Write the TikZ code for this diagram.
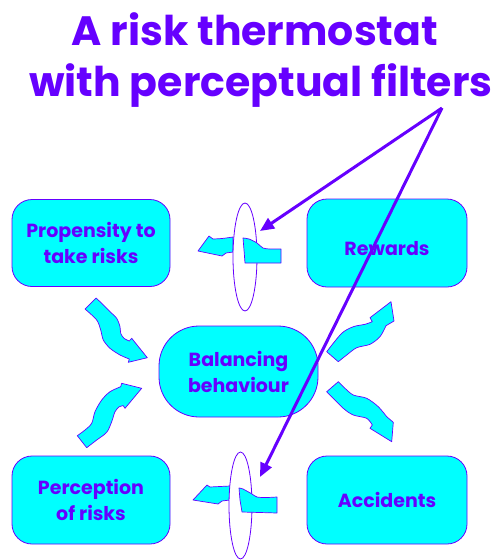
\documentclass[tikz,border=0pt]{standalone}
\usepackage{fontspec}
\setmainfont{Poppins}
\usetikzlibrary{arrows.meta,shapes.geometric}
\definecolor{pur}{HTML}{6600FF}
\definecolor{cy}{HTML}{00FFFF}
\begin{document}
\begin{tikzpicture}[x=1pt,y=-1pt,
 box/.style={draw=pur,line width=0.8pt,fill=cy,rounded corners=20pt,minimum width=158pt,minimum height=87pt,align=center,font=\bfseries\fontsize{19}{26}\selectfont,text=pur,inner sep=0pt},
 ribbon/.style={draw=pur,line width=0.7pt,fill=cy,line join=round},
 filt/.style={draw=pur,line width=0.8pt,fill=white,ellipse,inner sep=0pt},
 pointer/.style={draw=pur,line width=3pt,-{Triangle[length=14pt,width=12pt]}},
 ttl/.style={text=pur,font=\bfseries\fontsize{41}{48}\selectfont,anchor=base,inner sep=0pt}]
\useasboundingbox (0,0) rectangle (499,560);
% title
\node[ttl] (t1) at (255,45) {A risk thermostat};
\node[ttl] (t2) at (261,96) {with perceptual filters};
% boxes
\node[box] (prop) at (91,243) {Propensity to\\take risks};
\node[box,minimum width=160pt,minimum height=88pt] (rew) at (387,243) {\raisebox{-12pt}[0pt][0pt]{Rewards}};
\node[box,minimum width=159pt,minimum height=91pt,rounded corners=40pt] (bal) at (238.5,371.5) {Balancing\\behaviour};
\node[box,minimum height=88pt] (perc) at (91,500) {Perception\\of risks};
\node[box,minimum width=160pt,minimum height=88pt] (acc) at (387,500) {\raisebox{-7pt}[0pt][0pt]{Accidents}};
% wavy arrows
\draw[ribbon] (85,309) -- (96,298) -- plot[smooth] coordinates {(96,298) (101.7,303.3) (110,311.7) (116.7,318.3) (120,326.7) (120.7,333.3) (124,338.3) (129.3,341)} -- (131.7,338.3) -- (147.3,357.7) -- (128.3,362.3) -- plot[smooth] coordinates {(129.3,359) (120,355) (110,348.3) (103.3,340) (100.7,330) (96.7,320) (85,309)} -- cycle;
\draw[ribbon] (77.3,435.7) -- (86.7,447.7) -- plot[smooth] coordinates {(86.7,447.7) (96.7,440) (106.7,432.3) (111.7,421.7) (115,411.7) (119.3,406.7) (123.3,405.7)} -- (125,408.3) -- (141.7,388.3) -- (121.7,383.3) -- plot[smooth] coordinates {(120.7,386.7) (110,391.7) (101.7,400) (95,411.7) (91.7,423.3) (85,430) (77.3,435.7)} -- cycle;
\draw[ribbon] (326.7,351.7) -- (338.3,361.7) -- plot[smooth] coordinates {(338.3,361.7) (346.7,355) (356.7,347.7) (370,344.3) (380,336.7) (386,325.7)} -- (394,321) -- (391,301.7) -- (370,317.7) -- plot[smooth] coordinates {(372.3,321.7) (365,324.3) (353.3,326.7) (341.7,333.3) (326.7,351.7)} -- cycle;
\draw[ribbon] (326.7,391.7) -- (338.3,381.7) -- plot[smooth] coordinates {(338.3,381.7) (345,388.3) (353.3,395) (366.7,398.3) (378.3,406.7) (386.7,416.7)} -- (393.3,422.3) -- (391.7,441.7) -- (370,428.3) -- plot[smooth] coordinates {(372.3,425) (366.7,418.3) (353.3,415) (343.3,408.3) (326.7,391.7)} -- cycle;
% top filter
\draw[ribbon] (198,251) -- (209,236) -- (213,239) -- plot[smooth] coordinates {(213,239) (222,238.5) (233,237)} -- (233,252) -- (226,253) -- (222,256) -- cycle;
\node[filt,minimum width=24pt,minimum height=108pt] (e1) at (245,257) {};
\draw[ribbon] plot[smooth] coordinates {(243,238) (249,239) (257,243) (263,248) (270,249) (281,249)} -- (281,263) -- (245,263) -- (244,250) -- cycle;
% bottom filter
\draw[ribbon] (193,500) -- (207,485) -- (210,487) -- plot[smooth] coordinates {(210,487) (220,486.5) (230,486)} -- (230,500) -- (222,501) -- (218,504) -- cycle;
\node[filt,minimum width=23pt,minimum height=107pt] (e2) at (240.5,505.5) {};
\draw[ribbon] plot[smooth] coordinates {(239,488) (243,489) (252,494) (257,497) (266,497.5) (277,497)} -- (277,513) -- (242,512) -- (240,500) -- cycle;
% pointers
\coordinate (src) at (442,108);
\coordinate (f1) at (260,231);
\coordinate (f2) at (260,477);
\draw[pointer] (src) -- (f1);
\draw[pointer] (src) -- (f2);
\end{tikzpicture}
\end{document}
